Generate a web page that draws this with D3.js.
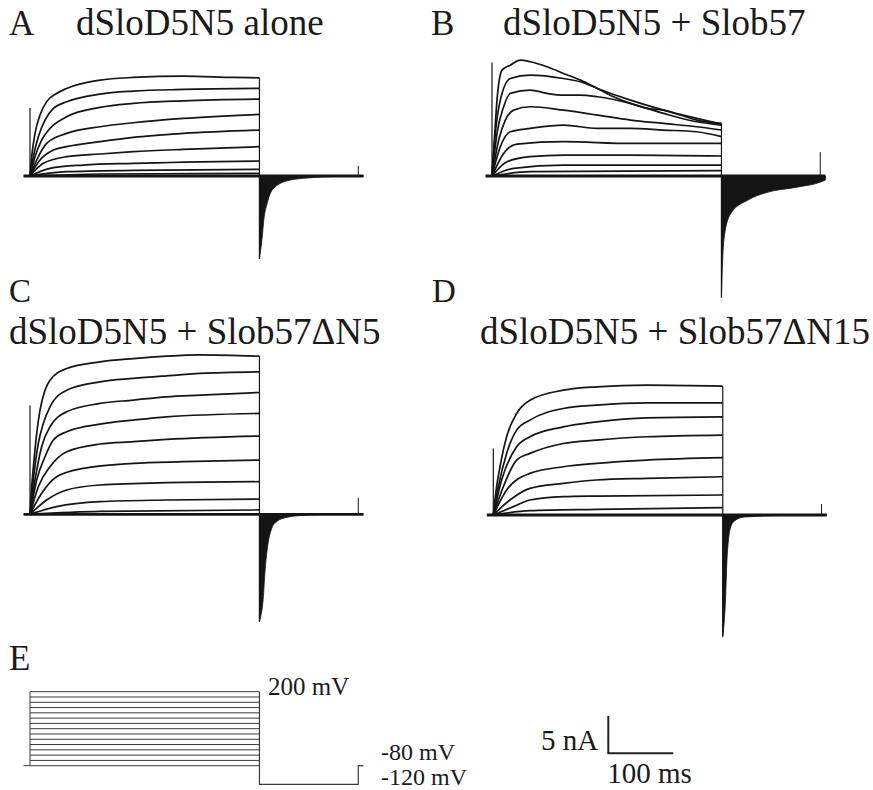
<!DOCTYPE html>
<html>
<head>
<meta charset="utf-8">
<script src="https://cdn.jsdelivr.net/npm/d3@7"></script>
<style>
  body { margin: 0; background: #fff; }
  svg text { font-family: "Liberation Serif", "DejaVu Serif", "Noto Serif", "Times New Roman", Times, serif; fill: #1a1a1a; }
</style>
</head>
<body>
<div class="canvas"></div>
<script>
const WIDTH = 873;
const HEIGHT = 790;
const FONT = '"Liberation Serif", "DejaVu Serif", "Noto Serif", "Times New Roman", Times, serif';

// protocol timing (ms)
const preMs = -10;
const stepMs = 353;
const tailMs = 160;
const tickMs = 152;

// voltage steps (mV)
const holdMv = -80;
const tailMv = -120;
const stepLevels = [-80, -60, -40, -20, 0, 20, 40, 60, 80, 100, 120, 140, 160, 180, 200];

// step currents, [ms, nA]
const tracesA = [
  [[0,0],[2.6,2.59],[7.7,5.71],[15.4,8.17],[25.6,9.95],[41,11.07],[56.4,11.74],[107.7,12.85],[159,13.21],[236,13.39],[313,13.21],[353,13.16]],
  [[0,0],[5.1,2.59],[12.8,5.27],[23.1,7.5],[35.9,9.06],[56.4,9.95],[107.7,10.98],[159,11.38],[236,11.6],[353,11.74]],
  [[0,0],[7.7,2.59],[17.9,4.82],[30.8,6.38],[56.4,7.94],[107.7,9.19],[159,9.73],[236,10.08],[353,10.31]],
  [[0,0],[10.3,2.14],[25.6,4.37],[56.4,5.71],[107.7,6.6],[159,7.14],[236,7.72],[353,8.26]],
  [[0,0],[15.4,2.14],[35.9,3.48],[56.4,3.93],[107.7,4.6],[159,5.18],[236,5.71],[353,6.16]],
  [[0,0],[20.5,1.7],[56.4,2.59],[107.7,2.95],[159,3.26],[236,3.57],[353,3.93]],
  [[0,0],[30.8,1.03],[82,1.47],[159,1.7],[353,2.01]],
  [[0,0],[56.4,0.58],[159,0.76],[353,0.89]],
  [[0,0],[107.7,0.27],[353,0.36]]
];

const tracesB = [
  [[0,0],[3.6,4.82],[7.7,10.17],[15.4,14.19],[28.2,14.86],[43.6,15.53],[59,15.31],[84.6,14.64],[110,13.75],[136,12.85],[162,11.74],[187,10.62],[213,9.73],[238,9.06],[264,8.83],[290,8.17],[315,7.5],[353,7.05]],
  [[0,0],[5.1,5.71],[12.8,10.17],[28.2,13.07],[59,13.52],[110,13.07],[136,12.63],[162,11.74],[213,10.17],[264,8.83],[315,7.72],[353,6.96]],
  [[0,0],[7.7,5.71],[17.9,9.28],[28.2,11.07],[59,11.51],[84.6,11.07],[110,10.84],[136,10.84],[162,10.62],[213,9.73],[264,8.39],[315,7.27],[353,6.83]],
  [[0,0],[10.3,4.82],[20.5,7.5],[33.3,8.83],[59,9.28],[110,8.83],[162,8.17],[213,7.5],[264,7.05],[315,6.6],[353,6.16]],
  [[0,0],[12.8,3.93],[28.2,5.93],[59,6.38],[110,6.83],[162,6.38],[213,6.38],[264,6.16],[315,5.93],[353,5.27]],
  [[0,0],[17.9,3.03],[38.5,4.28],[110,4.6],[213,4.37],[353,4.37]],
  [[0,0],[23.1,1.92],[59,2.59],[110,2.81],[213,2.81],[353,2.68]],
  [[0,0],[33.3,1.03],[110,1.47],[353,1.47]],
  [[0,0],[59,0.58],[353,0.71]]
];

const tracesC = [
  [[0,0],[2.6,3.7],[6.2,7.27],[10.3,10.84],[15.4,13.97],[23.1,16.64],[30.8,17.98],[56.4,19.54],[107.7,20.44],[159,20.88],[210,21.2],[262,21.37],[353,21.2]],
  [[0,0],[5.1,4.6],[12.8,9.5],[20.5,12.18],[30.8,14.41],[56.4,16.64],[107.7,17.76],[159,18.21],[210,18.56],[262,18.88],[353,19.1]],
  [[0,0],[7.7,4.6],[17.9,9.06],[30.8,11.74],[56.4,13.74],[107.7,14.86],[159,15.31],[210,15.75],[262,15.97],[353,16.33]],
  [[0,0],[10.3,4.6],[23.1,7.72],[35.9,9.95],[56.4,11.07],[107.7,12.09],[159,12.63],[210,13.07],[353,13.52]],
  [[0,0],[12.8,3.7],[30.8,6.38],[56.4,8.39],[107.7,9.42],[159,9.73],[210,10.04],[353,10.49]],
  [[0,0],[17.9,2.81],[41,5.04],[82,6.16],[159,6.83],[236,7.05],[353,7.27]],
  [[0,0],[25.6,1.92],[56.4,3.26],[107.7,3.93],[210,4.24],[353,4.37]],
  [[0,0],[41,1.03],[107.7,1.7],[210,1.92],[353,2.05]],
  [[0,0],[107.7,0.4],[353,0.58]]
];

const tracesD = [
  [[0,0],[5.1,3.79],[10.3,6.47],[20.5,10.49],[35.9,13.61],[56.4,15.39],[107.7,16.73],[159,17.18],[236,17.4],[353,17.27]],
  [[0,0],[7.7,3.79],[20.5,8.26],[35.9,11.38],[56.4,12.72],[107.7,14.28],[159,14.73],[236,15.04],[353,15.04]],
  [[0,0],[12.8,4.69],[35.9,9.15],[56.4,10.49],[107.7,11.82],[159,12.49],[236,13.03],[353,13.16]],
  [[0,0],[15.4,3.79],[35.9,7.36],[56.4,8.26],[107.7,9.59],[159,10.04],[236,10.49],[353,10.71]],
  [[0,0],[20.5,3.35],[56.4,5.58],[107.7,6.47],[159,6.92],[236,7.36],[353,7.68]],
  [[0,0],[25.6,2.01],[56.4,3.57],[107.7,4.24],[159,4.69],[236,4.91],[353,5.13]],
  [[0,0],[30.8,1.12],[56.4,2.01],[107.7,2.45],[159,2.54],[353,2.68]],
  [[0,0],[56.4,0.58],[159,0.76],[353,0.98]]
];

// tail current envelopes after the step, [ms, nA]
const tailA = [[0,-11.1],[1,-10.5],[4.2,-8.2],[6.7,-5.9],[11.8,-3.7],[16.9,-2.3],[24.6,-1.43],[32.3,-0.98],[47.7,-0.54],[67.7,-0.31],[109,-0.09],[160,0]];
const tailB = [[0,-16.3],[1.5,-12],[5.2,-7.63],[14.9,-4.95],[41,-3.21],[67,-2.28],[118,-1.47],[153,-0.8],[160,-0.54]];
const tailC = [[0,-14.4],[1.1,-14],[5.7,-11.4],[8.8,-7.4],[12.9,-4.1],[18,-2.1],[25.7,-1.04],[38,-0.5],[64,-0.16],[110,0],[160,0]];
const tailD = [[0,-16.3],[1.1,-15.5],[4.2,-11.4],[6.5,-6],[8.8,-3.35],[11.8,-1.74],[18,-0.8],[33.4,-0.27],[87,-0.07],[160,0]];

// capacitive spike at step onset and tick at tail end (nA)
const onsetSpike = { A: 9.1, B: 15.2, C: 14.6, D: 8.9 };
const endTick = { A: 1.34, B: 3.2, C: 2.2, D: 1.47 };

// scale bar
const barNa = 5;
const barMs = 100;

// px scales: time and current
const kx = d3.scaleLinear().domain([0, 100]).range([0, 65]);
const ky = d3.scaleLinear().domain([0, 5]).range([0, -37.3]);

const panels = [
  { key: 'A', traces: tracesA, tail: tailA, x: 30, y: 176 },
  { key: 'B', traces: tracesB, tail: tailB, x: 492, y: 176 },
  { key: 'C', traces: tracesC, tail: tailC, x: 30, y: 514.3 },
  { key: 'D', traces: tracesD, tail: tailD, x: 493.3, y: 515 }
];

const labels = [
  { t: 'A', x: 9, y: 35, size: 35 },
  { t: 'dSloD5N5 alone', x: 76, y: 35, size: 37 },
  { t: 'B', x: 431, y: 35, size: 35 },
  { t: 'dSloD5N5 + Slob57', x: 503, y: 35, size: 37 },
  { t: 'C', x: 9, y: 302, size: 33 },
  { t: 'dSloD5N5 + Slob57\u0394N5', x: 9, y: 344, size: 37 },
  { t: 'D', x: 432, y: 302, size: 33 },
  { t: 'dSloD5N5 + Slob57\u0394N15', x: 480, y: 344, size: 37 },
  { t: 'E', x: 9, y: 670, size: 35 }
];

const svg = d3.select('.canvas')
  .append('svg')
    .attr('width', WIDTH)
    .attr('height', HEIGHT);

const ink = '#141414';

const line = d3.line()
  .x(d => kx(d[0]))
  .y(d => ky(d[1]))
  .curve(d3.curveMonotoneX);

const tailArea = d3.area()
  .x(d => kx(stepMs + d[0]))
  .y0(ky(0))
  .y1(d => ky(d[1]))
  .curve(d3.curveMonotoneX);

panels.forEach(p => {
  const g = svg.append('g')
    .attr('transform', `translate(${p.x}, ${p.y})`);

  // tail currents
  g.append('path')
    .datum(p.tail)
    .attr('d', tailArea)
    .attr('fill', ink)
    .attr('stroke', ink)
    .attr('stroke-width', 0.8);

  // baseline (overlapping small-step sweeps)
  g.append('line')
    .attr('x1', kx(preMs)).attr('x2', kx(stepMs + tailMs))
    .attr('y1', ky(0)).attr('y2', ky(0))
    .attr('stroke', ink)
    .attr('stroke-width', 2.8);

  // step currents
  g.selectAll('path.trace')
    .data(p.traces)
    .enter().append('path')
      .attr('class', 'trace')
      .attr('d', line)
      .attr('fill', 'none')
      .attr('stroke', ink)
      .attr('stroke-width', 1.7);

  // onset spike
  g.append('line')
    .attr('x1', kx(0)).attr('x2', kx(0))
    .attr('y1', ky(0)).attr('y2', ky(onsetSpike[p.key]))
    .attr('stroke', ink)
    .attr('stroke-width', 1.2);

  // step offset edge
  const top = d3.max(p.traces, tr => tr[tr.length - 1][1]);
  g.append('line')
    .attr('x1', kx(stepMs)).attr('x2', kx(stepMs))
    .attr('y1', ky(top)).attr('y2', ky(p.tail[0][1]))
    .attr('stroke', ink)
    .attr('stroke-width', 1.2);

  // tick at tail end
  g.append('line')
    .attr('x1', kx(stepMs + tickMs)).attr('x2', kx(stepMs + tickMs))
    .attr('y1', ky(0)).attr('y2', ky(endTick[p.key]))
    .attr('stroke', ink)
    .attr('stroke-width', 1);
});

// E: voltage protocol
const vy = d3.scaleLinear()
  .domain([tailMv, holdMv, 200])
  .range([784.3, 765.7, 691.7]);
const protocol = svg.append('g').attr('transform', 'translate(30, 0)');
const protoColor = '#3a3a3a';

protocol.selectAll('line.level')
  .data(stepLevels)
  .enter().append('line')
    .attr('class', 'level')
    .attr('x1', kx(0)).attr('x2', kx(stepMs))
    .attr('y1', d => vy(d)).attr('y2', d => vy(d))
    .attr('stroke', protoColor)
    .attr('stroke-width', 1);

const vLine = d3.line().x(d => kx(d[0])).y(d => vy(d[1]));
protocol.append('path')
  .datum([[preMs, holdMv], [0, holdMv], [0, d3.max(stepLevels)]])
  .attr('d', vLine)
  .attr('fill', 'none').attr('stroke', protoColor).attr('stroke-width', 1);
protocol.append('path')
  .datum([[stepMs, d3.max(stepLevels)], [stepMs, tailMv], [stepMs + tickMs, tailMv],
          [stepMs + tickMs, holdMv], [stepMs + tailMs, holdMv]])
  .attr('d', vLine)
  .attr('fill', 'none').attr('stroke', protoColor).attr('stroke-width', 1.2);

const mvLabels = [
  { t: '200 mV', x: 268, y: 695, size: 25 },
  { t: '-80 mV', x: 381, y: 760, size: 24 },
  { t: '-120 mV', x: 381, y: 785, size: 24 }
];
svg.selectAll('text.mv')
  .data(mvLabels)
  .enter().append('text')
    .attr('class', 'mv')
    .attr('x', d => d.x).attr('y', d => d.y)
    .attr('font-family', FONT)
    .attr('font-size', d => d.size)
    .text(d => d.t);

// scale bar
const bar = svg.append('g').attr('transform', 'translate(608.3, 753.3)');
bar.append('path')
  .attr('d', `M0,${ky(barNa)}V0H${kx(barMs)}`)
  .attr('fill', 'none')
  .attr('stroke', '#222')
  .attr('stroke-width', 2);
bar.append('text')
  .attr('x', -10).attr('y', -3)
  .attr('text-anchor', 'end')
  .attr('font-family', FONT)
  .attr('font-size', 29)
  .text(`${barNa} nA`);
bar.append('text')
  .attr('x', -1).attr('y', 30)
  .attr('font-family', FONT)
  .attr('font-size', 29)
  .text(`${barMs} ms`);

// panel letters and titles
svg.selectAll('text.title')
  .data(labels)
  .enter().append('text')
    .attr('class', 'title')
    .attr('x', d => d.x).attr('y', d => d.y)
    .attr('font-family', FONT)
    .attr('font-size', d => d.size)
    .text(d => d.t);
</script>
</body>
</html>
